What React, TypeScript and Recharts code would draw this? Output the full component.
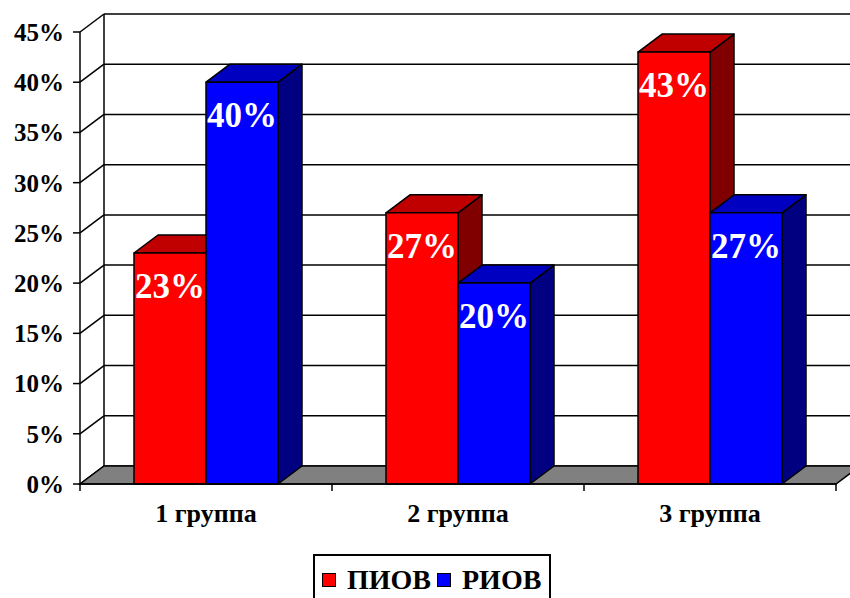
import { BarChart, Bar, XAxis, YAxis, CartesianGrid, ReferenceArea, LabelList, Legend } from 'recharts';

const categories = ['1 группа', '2 группа', '3 группа'];
const piovValues = [23, 27, 43];
const riovValues = [40, 20, 27];
const yTicks = [0, 5, 10, 15, 20, 25, 30, 35, 40, 45];

const series = [
  { key: 'piov', name: 'ПИОВ', front: '#ff0000', top: '#c00000', side: '#800000' },
  { key: 'riov', name: 'РИОВ', front: '#0000ff', top: '#0000c0', side: '#000080' },
];

const data = categories.map((group, i) => ({ group, piov: piovValues[i], riov: riovValues[i] }));

// depth of the 3d box
const DX = 24;
const DY = -18;
const FONT = 'Liberation Serif, Tinos, Times New Roman, DejaVu Serif, serif';

function boxShape(front: string, top: string, side: string) {
  return (props: any) => {
    const { x, y, width, height } = props;
    if (!height || height <= 0) return <g />;
    const r = x + width;
    const b = y + height;
    return (
      <g stroke="#000" strokeWidth={1.5} strokeLinejoin="round">
        <polygon points={`${r},${y} ${r + DX},${y + DY} ${r + DX},${b + DY} ${r},${b}`} fill={side} />
        <polygon points={`${x},${y} ${x + DX},${y + DY} ${r + DX},${y + DY} ${r},${y}`} fill={top} />
        <rect x={x} y={y} width={width} height={height} fill={front} />
      </g>
    );
  };
}

const gridLine = (p: any) => {
  const { x1, y1, x2 } = p;
  return (
    <g key={p.key}>
      <line x1={x1} y1={y1} x2={x1 + DX} y2={y1 + DY} stroke="#000" strokeWidth={1.5} />
      <line x1={x1 + DX} y1={y1 + DY} x2={x2 + DX} y2={y1 + DY} stroke="#000" strokeWidth={1.5} />
    </g>
  );
};

// floor, back edge of the left wall and the category boundary ticks
const Frame = (p: any) => {
  const { x, y, width, height } = p;
  const b = y + height;
  const n = categories.length;
  const marks = Array.from({ length: n + 1 }, (_, i) => x + (i * width) / n);
  return (
    <g>
      <polygon
        points={`${x},${b} ${x + width},${b} ${x + width + DX},${b + DY} ${x + DX},${b + DY}`}
        fill="#808080"
        stroke="#000"
        strokeWidth={1.5}
      />
      <line x1={x + DX} y1={y + DY} x2={x + DX} y2={b + DY} stroke="#000" strokeWidth={1.5} />
      {marks.map((mx, i) => (
        <line key={i} x1={mx} y1={b} x2={mx} y2={b + 7} stroke="#000" strokeWidth={1.5} />
      ))}
    </g>
  );
};

const valueLabel = (p: any) => {
  const { x, y, width, value } = p;
  return (
    <text
      x={x + width / 2}
      y={y + 45}
      textAnchor="middle"
      fill="#fff"
      style={{ fontFamily: FONT, fontWeight: 'bold', fontSize: 35 }}
    >
      {`${value}%`}
    </text>
  );
};

const LegendBox = () => (
  <div
    style={{
      border: '2px solid #000',
      background: '#fff',
      height: 60,
      boxSizing: 'border-box',
      display: 'flex',
      alignItems: 'flex-start',
      paddingLeft: 7,
      paddingTop: 8,
      fontFamily: FONT,
      fontWeight: 'bold',
      fontSize: 28,
      lineHeight: '32px',
      color: '#000',
    }}
  >
    {series.map((s) => (
      <span key={s.key} style={{ display: 'flex', alignItems: 'center', marginRight: 6 }}>
        <span
          style={{ display: 'inline-block', width: 12, height: 12, background: s.front, border: '1px solid #000', marginRight: 11 }}
        />
        {s.name}
      </span>
    ))}
  </div>
);

const yTick = { fill: '#000', style: { fontFamily: FONT, fontWeight: 'bold', fontSize: 25 } };
const xTick = { fill: '#000', style: { fontFamily: FONT, fontWeight: 'bold', fontSize: 26 } };

export default function App() {
  return (
    <div style={{ position: 'absolute', left: 0, top: 0, width: 850, height: 598, overflow: 'hidden', background: '#fff', fontFamily: FONT }}>
      <BarChart
        width={850}
        height={598}
        data={data}
        margin={{ top: 32, right: 14, left: 0, bottom: 84 }}
        barSize={72}
        barGap={0}
      >
        <CartesianGrid horizontal={gridLine} vertical={false} />
        <ReferenceArea x1={categories[0]} x2={categories[categories.length - 1]} y1={0} y2={45} shape={Frame} />
        <XAxis
          dataKey="group"
          height={30}
          axisLine={{ stroke: '#000', strokeWidth: 1.5 }}
          tickLine={false}
          tickMargin={14}
          tick={xTick}
        />
        <YAxis
          width={80}
          domain={[0, 45]}
          ticks={yTicks}
          interval={0}
          tickFormatter={(v) => `${v}%`}
          axisLine={{ stroke: '#000', strokeWidth: 1.5 }}
          tickLine={{ stroke: '#000', strokeWidth: 1.5 }}
          tickSize={7}
          tickMargin={9}
          tick={yTick}
        />
        <Legend
          verticalAlign="middle"
          align="center"
          content={<LegendBox />}
          wrapperStyle={{ left: 313, top: 554, width: 238, bottom: 'auto' }}
        />
        {series.map((s) => (
          <Bar
            key={s.key}
            dataKey={s.key}
            name={s.name}
            fill={s.front}
            shape={boxShape(s.front, s.top, s.side)}
            isAnimationActive={false}
          >
            <LabelList dataKey={s.key} content={valueLabel} />
          </Bar>
        ))}
      </BarChart>
    </div>
  );
}
